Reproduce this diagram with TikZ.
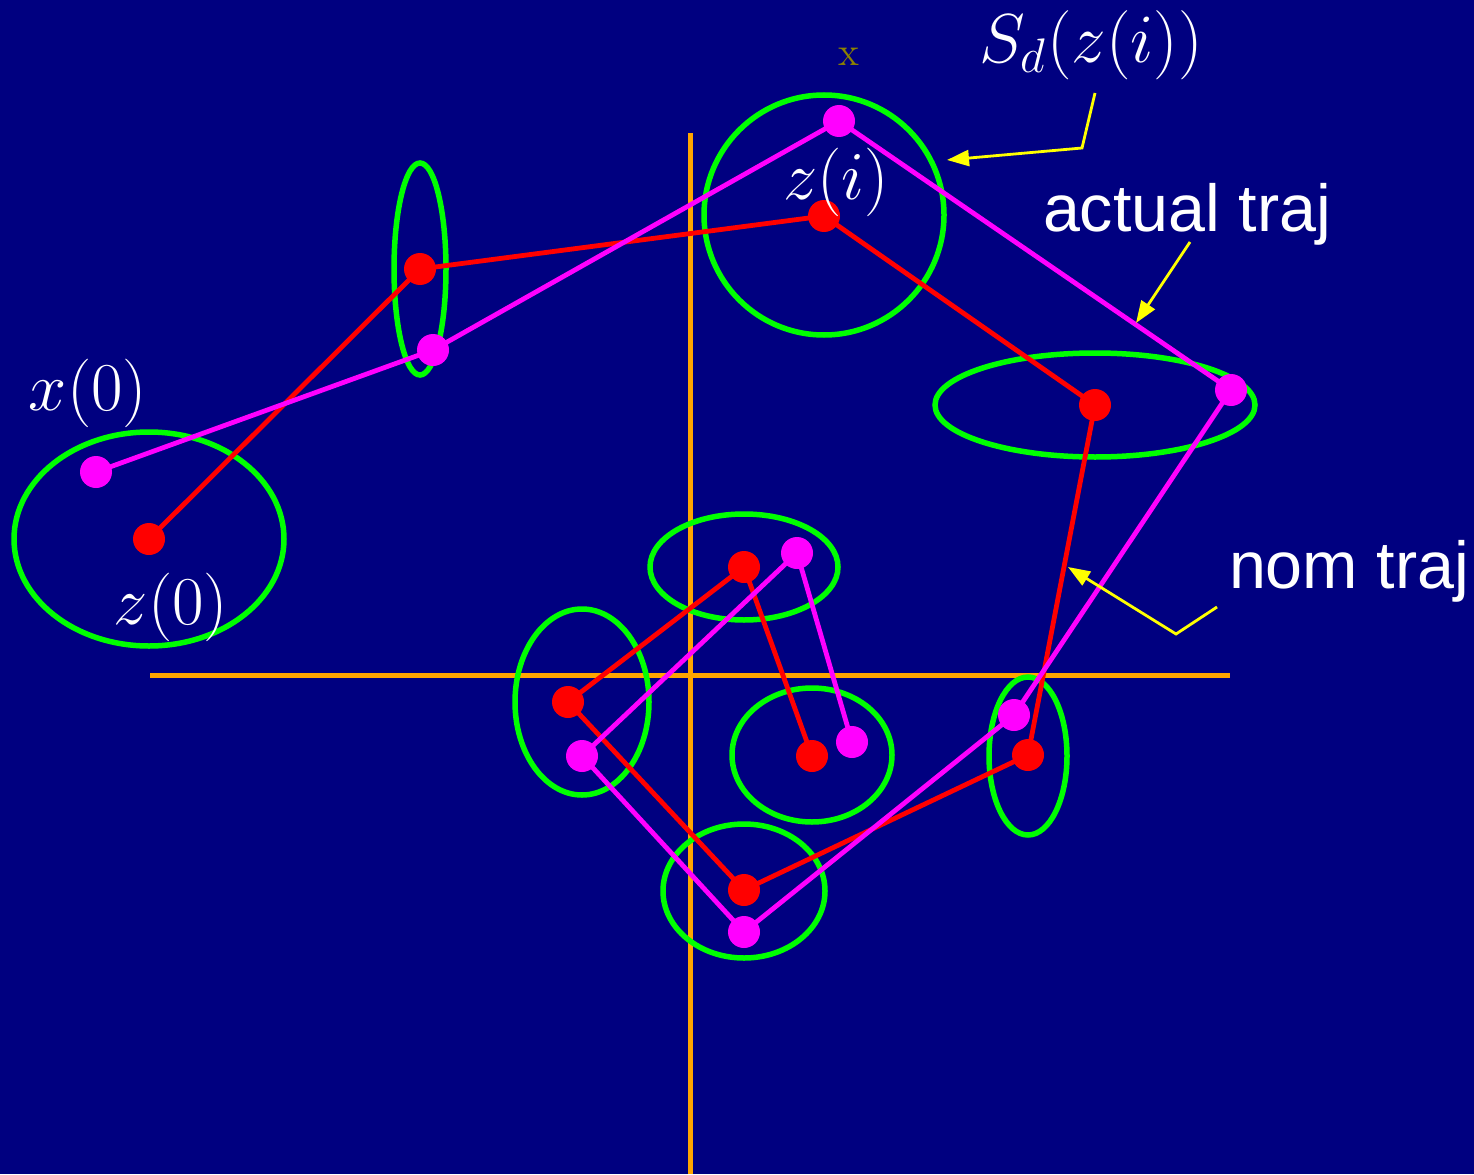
\documentclass[tikz,border=0pt]{standalone}
\usepackage{fix-cm}
\usepackage{fontspec}
\usetikzlibrary{arrows.meta}
\newfontfamily\labelsans{Liberation Sans}
\definecolor{slidebg}{RGB}{0,0,128}
\definecolor{axisorange}{RGB}{255,165,0}
\definecolor{tubegreen}{RGB}{0,255,0}
\definecolor{nomred}{RGB}{255,0,0}
\definecolor{actmagenta}{RGB}{255,0,255}
\definecolor{calloutyellow}{RGB}{255,255,0}
\definecolor{markolive}{RGB}{140,130,0}

\begin{document}
\begin{tikzpicture}[x=0.1mm, y=-0.1mm,
    axis/.style={axisorange, line width=0.5mm},
    tube/.style={tubegreen, line width=0.55mm},
    nomline/.style={nomred, line width=0.48mm, line join=round},
    actline/.style={actmagenta, line width=0.48mm, line join=round},
    zdot/.style={circle, fill=nomred, inner sep=0pt, minimum size=3.2mm},
    xdot/.style={circle, fill=actmagenta, inner sep=0pt, minimum size=3.2mm},
    mathlbl/.style={text=white, font=\fontsize{19.5}{22}\selectfont, inner sep=0pt},
    wordlbl/.style={text=white, font=\labelsans\fontsize{18.9}{22}\selectfont, inner sep=0pt, anchor=base},
    callout/.style={calloutyellow, line width=0.28mm, -{Triangle[length=2.2mm, width=1.6mm]}}]
  % --- Background ---
  \fill[slidebg] (0,0) rectangle (1474,1174);
  \useasboundingbox (0,0) rectangle (1474,1174);

  % --- Axes ---
  \draw[axis] (150,675) -- (1230,675);
  \draw[axis] (690,133) -- (690,1174);

  % --- Nominal trajectory points z(k) ---
  \coordinate (z0) at (149,539);
  \coordinate (z1) at (420,269);
  \coordinate (z2) at (824,216);
  \coordinate (z3) at (1095,405);
  \coordinate (z4) at (1028,755);
  \coordinate (z5) at (744,890);
  \coordinate (z6) at (568,702);
  \coordinate (z7) at (744,567);
  \coordinate (z8) at (812,756);

  % --- Actual trajectory points x(k) ---
  \coordinate (x0) at (96,472);
  \coordinate (x1) at (433,350);
  \coordinate (x2) at (839,121);
  \coordinate (x3) at (1231,390);
  \coordinate (x4) at (1014,715);
  \coordinate (x5) at (744,932);
  \coordinate (x6) at (582,756);
  \coordinate (x7) at (797,553);
  \coordinate (x8) at (852,742);

  % --- Tubes S_d around the nominal points ---
  \foreach \cx/\cy/\rx/\ry [count=\k from 0] in
      {149/539/13.5/10.7, 420/269/2.6/10.6, 824/215/12.0/12.0,
       1095/405/16.0/5.2, 1028/756/3.9/7.9, 744/891/8.1/6.7,
       582/702/6.7/9.3, 744/567/9.4/5.3, 812/755/8.0/6.7}
    \draw[tube] (\cx,\cy) coordinate (s\k) ellipse [x radius=\rx mm, y radius=\ry mm];

  % --- Trajectories ---
  \draw[nomline] (z0) -- (z1) -- (z2) -- (z3) -- (z4) -- (z5) -- (z6) -- (z7) -- (z8);
  \draw[actline] (x0) -- (x1) -- (x2) -- (x3) -- (x4) -- (x5) -- (x6) -- (x7) -- (x8);
  \foreach \k in {0,...,8} {
    \node[zdot] (zd\k) at (z\k) {};
    \node[xdot] (xd\k) at (x\k) {};
  }

  % --- Labels ---
  \node[mathlbl] (lx0) at (88,393) {$x(0)$};
  \node[mathlbl] (lz0) at (171,607) {$z(0)$};
  \node[mathlbl] (lzi) at (836,182) {$z(i)$};
  \node[mathlbl, font=\fontsize{19.7}{22}\selectfont] (lsd) at (1091,45) {$S_d(z(i))$};
  \node[wordlbl] (lact) at (1187,231) {actual traj};
  \node[wordlbl] (lnom) at (1349,588) {nom traj};
  \node[text=markolive, font=\fontsize{11.5}{13}\selectfont, inner sep=0pt, anchor=base] (mark) at (849,66) {x};

  % --- Callout arrows ---
  \coordinate (sdfoot) at (1095,93);
  \coordinate (sdbend) at (1082,148);
  \coordinate (sdtip) at (947,160);
  \coordinate (actfoot) at (1190,242);
  \coordinate (acttip) at (1136,323);
  \coordinate (nomfoot) at (1217,607);
  \coordinate (nombend) at (1176,634);
  \coordinate (nomtip) at (1068,567);
  \draw[callout] (sdfoot) -- (sdbend) -- (sdtip);
  \draw[callout] (actfoot) -- (acttip);
  \draw[callout] (nomfoot) -- (nombend) -- (nomtip);
\end{tikzpicture}
\end{document}
